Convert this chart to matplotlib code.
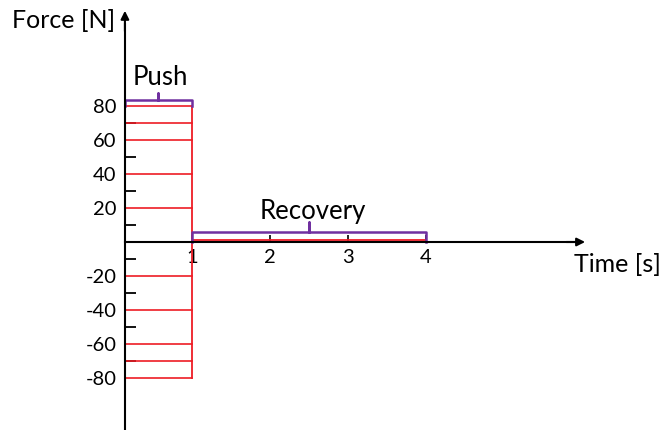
import matplotlib.pyplot as plt
from matplotlib.ticker import FixedLocator

plt.rcParams['font.family'] = ['Lato', 'DejaVu Sans']

# data
push_end = 1.0
recovery_end = 4.0
push_levels = [80, 70, 60, 40, 20, -20, -40, -60, -70, -80]
y_major = [80, 60, 40, 20, -20, -40, -60, -80]
y_minor = [70, 50, 30, 10, -10, -30, -50, -70]
x_major = [1, 2, 3, 4]
axis_x = 0.14

red = '#ee1c25'
purple = '#7030a0'

fig = plt.figure(figsize=(6.64, 4.3), dpi=100)
ax = fig.add_axes([0, 0, 1, 1])
ax.set_xlim(-114 / 78, 550 / 78)
ax.set_ylim(-188 / 1.7, 242 / 1.7)

for s in ['top', 'right']:
    ax.spines[s].set_visible(False)
ax.spines['left'].set_position(('data', axis_x))
ax.spines['bottom'].set_position(('data', 0))
ax.spines['left'].set_bounds(-112, 128)
ax.spines['bottom'].set_bounds(axis_x, 5.9)
for s in ['left', 'bottom']:
    ax.spines[s].set_linewidth(1.5)

# arrow heads
ax.annotate('', xy=(axis_x, 136), xytext=(axis_x, 124),
            arrowprops=dict(arrowstyle='-|>', color='black', lw=1.5,
                            mutation_scale=12, shrinkA=0, shrinkB=0))
ax.annotate('', xy=(6.04, 0), xytext=(5.8, 0),
            arrowprops=dict(arrowstyle='-|>', color='black', lw=1.5,
                            mutation_scale=12, shrinkA=0, shrinkB=0))

ax.yaxis.set_major_locator(FixedLocator(y_major))
ax.yaxis.set_minor_locator(FixedLocator(y_minor))
ax.set_yticklabels([str(v) for v in y_major])
ax.tick_params(axis='y', which='major', length=0, pad=6, labelsize=14.5)
ax.tick_params(axis='y', which='minor', direction='in', length=8, width=1.3)

ax.xaxis.set_major_locator(FixedLocator(x_major))
ax.set_xticklabels([str(v) for v in x_major])
ax.tick_params(axis='x', which='major', direction='in', length=5, width=1.2,
               pad=5, labelsize=14.5)

# push force lines
for lv in push_levels:
    ax.plot([axis_x, push_end], [lv, lv], color=red, lw=1.2)
ax.plot([push_end, push_end], [min(push_levels), max(push_levels)], color=red, lw=1.3)
ax.plot([push_end, recovery_end], [1, 1], color=red, lw=1.3)

# braces
bx = [axis_x, axis_x, (axis_x + push_end) / 2, (axis_x + push_end) / 2, (axis_x + push_end) / 2, push_end, push_end]
by = [80, 83.5, 83.5, 87.5, 83.5, 83.5, 80]
ax.plot(bx, by, color=purple, lw=1.8, solid_joinstyle='round')
mid = (push_end + recovery_end) / 2
rx = [push_end, push_end, mid, mid, mid, recovery_end, recovery_end]
ry = [0, 6, 6, 11.5, 6, 6, 0]
ax.plot(rx, ry, color=purple, lw=1.8, solid_joinstyle='round')

ax.text(0.59, 96.5, 'Push', fontsize=18.5, ha='center', va='center')
ax.text(2.55, 18, 'Recovery', fontsize=18.5, ha='center', va='center')
ax.text(0.02, 130, 'Force [N]', fontsize=18, ha='right', va='center')
ax.text(5.9, -13.5, 'Time [s]', fontsize=18, ha='left', va='center')

plt.savefig('out.png', dpi=100)
